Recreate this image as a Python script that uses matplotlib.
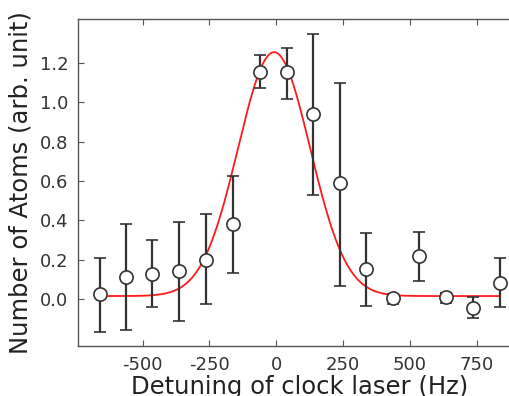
import numpy as np
import matplotlib
matplotlib.use("Agg")
import matplotlib.pyplot as plt

# Measured data
detuning = [-660, -562, -465, -364, -264, -162, -61, 40, 139, 239, 337, 437, 536, 635, 736, 836]
atoms = [0.024, 0.113, 0.127, 0.142, 0.198, 0.38, 1.156, 1.152, 0.939, 0.588,
         0.151, 0.007, 0.219, 0.012, -0.044, 0.083]
err_upper = [0.21, 0.38, 0.298, 0.391, 0.43, 0.625, 1.24, 1.275, 1.347, 1.10,
             0.337, 0.025, 0.34, 0.029, 0.012, 0.207]
err_lower = [-0.166, -0.158, -0.042, -0.112, -0.025, 0.13, 1.071, 1.018, 0.529, 0.068,
             -0.036, -0.025, 0.093, -0.022, -0.098, -0.042]

# Gaussian fit parameters
fit_amplitude = 1.24
fit_center = -8.0
fit_sigma = 135.0
fit_offset = 0.015

x_ticks = [-500, -250, 0, 250, 500, 750]
y_ticks = [0.0, 0.2, 0.4, 0.6, 0.8, 1.0, 1.2]

fig = plt.figure(figsize=(5.10, 3.96), dpi=100)
W, H = 510, 396
left, right, top, bottom = 78, 522, 19, 346
ax = fig.add_axes([left / W, 1 - bottom / H, (right - left) / W, (bottom - top) / H])

det = np.array(detuning)
y = np.array(atoms)
yerr = np.vstack([y - np.array(err_lower), np.array(err_upper) - y])

xf = np.linspace(det.min(), det.max(), 400)
yf = fit_offset + fit_amplitude * np.exp(-(xf - fit_center) ** 2 / (2 * fit_sigma ** 2))
ax.plot(xf, yf, color="#ff1a1a", lw=1.3, zorder=2)

ax.errorbar(det, y, yerr=yerr, fmt="o", ms=9.5, mfc="white", mec="#333333",
            mew=1.2, ecolor="#333333", elinewidth=1.6, capsize=4, capthick=1.6, zorder=3)

ax.set_xlim(-742, 920)
ax.set_ylim(-0.239, 1.424)
ax.set_xticks(x_ticks)
ax.set_xticklabels([str(t) for t in x_ticks])
ax.set_yticks(y_ticks)
ax.set_yticklabels([f"{t:.1f}" for t in y_ticks])
ax.tick_params(direction="in", top=True, right=False, labelsize=13, length=4,
               color="#555555", labelcolor="#333333", pad=7)
for s in ax.spines.values():
    s.set_color("#555555")
    s.set_linewidth(1.0)
ax.spines["right"].set_visible(False)

ax.set_xlabel("Detuning of clock laser (Hz)", fontsize=17.5, color="#222222", labelpad=1)
ax.set_ylabel("Number of Atoms (arb. unit)", fontsize=17.5, color="#222222", labelpad=5)

fig.savefig("out.png", dpi=100)
